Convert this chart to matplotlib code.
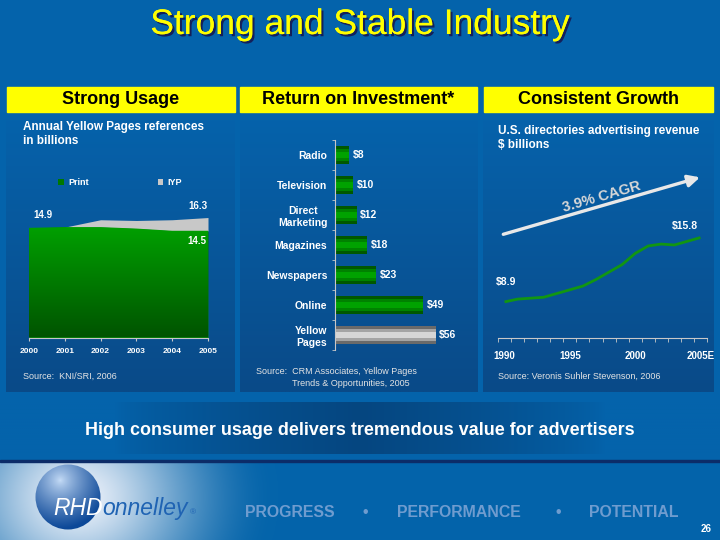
import numpy as np
import matplotlib
matplotlib.use('Agg')
import matplotlib.pyplot as plt
from matplotlib import patheffects
from matplotlib.patches import Circle, Rectangle

plt.rcParams['font.family'] = ['Liberation Sans', 'DejaVu Sans']

# Strong Usage - annual Yellow Pages references, billions
usage_years = [2000, 2001, 2002, 2003, 2004, 2005]
usage_print = [14.9, 15.0, 15.0, 14.8, 14.5, 14.5]
usage_iyp = [0.0, 0.0, 1.0, 1.1, 1.5, 1.8]

# Return on Investment
roi_media = ['Radio', 'Television', 'Direct\nMarketing', 'Magazines',
             'Newspapers', 'Online', 'Yellow\nPages']
roi_values = [8, 10, 12, 18, 23, 49, 56]

# Consistent Growth - U.S. directories advertising revenue, $ billions
rev_years = list(range(1990, 2006))
rev_values = [8.9, 9.2, 9.3, 9.4, 9.8, 10.2, 10.6, 11.3, 12.1, 12.9,
              14.1, 14.9, 15.1, 15.0, 15.4, 15.8]
rev_ticks = [1990, 1995, 2000, 2005]
rev_tick_labels = ['1990', '1995', '2000', '2005E']

W, H = 720, 540
BG = '#0463ab'
AXIS = '#c8c8c8'


def box(x0, y0, x1, y1):
    # pixel box (origin top left) -> figure fraction rect
    return [x0 / W, 1 - y1 / H, (x1 - x0) / W, (y1 - y0) / H]


def mix(c0, c1, t):
    c0 = np.array(c0) / 255.0
    c1 = np.array(c1) / 255.0
    t = np.asarray(t)[..., None]
    return c0 + (c1 - c0) * t


fig = plt.figure(figsize=(7.2, 5.4), dpi=100)
fig.patch.set_facecolor(BG)

# background layer in pixel coordinates
bg = fig.add_axes([0, 0, 1, 1])
bg.axis('off')

for x0, x1 in [(6, 234.5), (239.5, 477), (483, 714)]:
    bg.imshow(mix((5, 101, 175), (10, 74, 136), np.linspace(0, 1, 200)[:, None]),
              extent=(x0, x1, 392, 87), aspect='auto', interpolation='bilinear')

# darker band behind the message
xs = np.linspace(0, W, 360)
prof = np.clip(1 - np.abs(xs - 360) / 245, 0, 1) ** 0.7
bg.imshow(mix((4, 99, 171), (6, 70, 128), prof[None, :]),
          extent=(0, W, 454, 402), aspect='auto', interpolation='bilinear')

# footer
yy, xx = np.mgrid[462:540:1.0, 0:720:1.0]
r = np.hypot(xx - 78, (yy - 497) * 1.2)
t = np.clip(r / 200, 0, 1)
t = t * t * (3 - 2 * t)
foot = mix((236, 241, 250), (4, 100, 170), t ** 0.8)
bg.imshow(foot, extent=(0, W, 540, 462), aspect='auto')
bg.add_patch(Rectangle((0, 459.5), W, 2.5, color='#0c2c68'))

# logo sphere
yy, xx = np.mgrid[464:530:0.5, 35:101:0.5]
d = np.hypot(xx - 60, yy - 480)
sph = bg.imshow(mix((200, 222, 248), (12, 72, 152), np.clip(d / 48, 0, 1) ** 0.8),
                extent=(35, 101, 530, 464), aspect='auto')
circ = Circle((68, 497), 32.5, transform=bg.transData, facecolor='none', edgecolor='none')
bg.add_patch(circ)
sph.set_clip_path(circ)

# title
bg.text(360, 34, 'Strong and Stable Industry', ha='center', va='baseline',
        fontsize=25.5, color='#ffff00',
        path_effects=[patheffects.withSimplePatchShadow(offset=(1.6, -1.6),
                                                        shadow_rgbFace='#14205a', alpha=1),
                      patheffects.Normal()])

# yellow header boxes
for (x0, x1), txt in zip([(6.5, 235), (240, 477), (484, 712.5)],
                         ['Strong Usage', 'Return on Investment*', 'Consistent Growth']):
    bg.add_patch(Rectangle((x0, 87), x1 - x0, 24.5, color='#ffff00'))
    bg.text((x0 + x1) / 2, 104.5, txt, ha='center', va='baseline',
            fontsize=13, fontweight='bold', color='black')

white_bold = dict(color='white', fontweight='bold')
bg.text(22.7, 130, 'Annual Yellow Pages references', fontsize=8.5, va='baseline', **white_bold)
bg.text(22.7, 143.5, 'in billions', fontsize=8.5, va='baseline', **white_bold)
bg.text(498.3, 134, 'U.S. directories advertising revenue', fontsize=8.5, va='baseline', **white_bold)
bg.text(498.3, 147.5, '$ billions', fontsize=8.5, va='baseline', **white_bold)

src = dict(fontsize=6.5, color='#e4e4e4', va='baseline')
bg.text(22.7, 378.5, 'Source:  KNI/SRI, 2006', **src)
bg.text(255.7, 374, 'Source:  CRM Associates, Yellow Pages', **src)
bg.text(291.7, 385.5, 'Trends & Opportunities, 2005', **src)
bg.text(498.3, 378.5, 'Source: Veronis Suhler Stevenson, 2006', **src)

bg.text(360, 435, 'High consumer usage delivers tremendous value for advertisers',
        ha='center', va='baseline', fontsize=12.9, **white_bold)

# footer texts
t1 = bg.text(53, 515, 'RHD', fontsize=16.5, style='italic', color='white', va='baseline')
t2 = bg.annotate('onnelley', xy=(1, 0), xycoords=t1, va='bottom', ha='left',
                 fontsize=16.5, style='italic', color='#1f63b3')
bg.annotate('®', xy=(1, 0), xycoords=t2, xytext=(1, 3), textcoords='offset points',
            va='bottom', ha='left', fontsize=6, color='#1f63b3')
tag = dict(fontsize=11.4, fontweight='bold', color='#6f9ccf', va='baseline')
bg.text(245, 517.3, 'PROGRESS', **tag)
bg.text(365, 517.3, '•', ha='center', **tag)
bg.text(397, 517.3, 'PERFORMANCE', **tag)
bg.text(558, 517.3, '•', ha='center', **tag)
bg.text(589, 517.3, 'POTENTIAL', **tag)
bg.text(712, 531.7, '26', ha='right', va='baseline', fontsize=7, **white_bold)

# CAGR arrow
bg.annotate('', xy=(700, 177.3), xytext=(503.3, 234.3),
            arrowprops=dict(arrowstyle='-|>,head_length=0.7,head_width=0.35',
                            lw=2.4, color='#e8e8e8', shrinkA=0, shrinkB=0))
bg.text(601.5, 196.5, '3.9% CAGR', rotation=16.2, rotation_mode='anchor',
        ha='center', va='center', fontsize=10.5, fontweight='bold', color='#d8d8d8')

bg.set_xlim(0, W)
bg.set_ylim(H, 0)

# ---- chart 1: stacked area
PX1 = 7.36
ax1 = fig.add_axes(box(29, 337.5 - 20 * PX1, 208, 337.5))
ax1.set_facecolor('none')
total = np.add(usage_print, usage_iyp)
p_print = ax1.fill_between(usage_years, 0, usage_print, color='#007800', lw=0, label='Print')
grad = ax1.imshow(mix((0, 160, 0), (0, 84, 0), np.linspace(0, 1, 100)[:, None]),
                  extent=(2000, 2005, 0, max(usage_print)), aspect='auto', zorder=2)
grad.set_clip_path(p_print.get_paths()[0], transform=ax1.transData)
ax1.fill_between(usage_years, usage_print, total, color='#c8c8c8', lw=0, label='IYP')
ax1.set_xlim(2000, 2005)
ax1.set_ylim(0, 20)
for s in ['left', 'top', 'right']:
    ax1.spines[s].set_visible(False)
ax1.spines['bottom'].set_color(AXIS)
ax1.set_yticks([])
ax1.set_xticks(usage_years)
ax1.tick_params(axis='x', direction='out', length=2.5, color=AXIS, pad=5,
                labelsize=6, labelcolor='white')
for lab in ax1.get_xticklabels():
    lab.set_fontweight('bold')
ax1.legend(loc='center', bbox_to_anchor=(0.51, 1.052), ncol=2, frameon=False,
           prop={'weight': 'bold', 'size': 6.5}, labelcolor='white',
           handlelength=0.6, handleheight=0.6, handletextpad=0.5, columnspacing=7.6)
lbl = dict(textcoords='offset points', ha='center', va='center', fontsize=7, **white_bold)
ax1.annotate(f'{usage_print[0]:.1f}', xy=(usage_years[0], usage_print[0]), xytext=(10, 9), **lbl)
ax1.annotate(f'{total[-1]:.1f}', xy=(usage_years[-1], total[-1]), xytext=(-7, 8), **lbl)
ax1.annotate(f'{usage_print[-1]:.1f}', xy=(usage_years[-1], usage_print[-1]), xytext=(-8, -7), **lbl)

# ---- chart 2: horizontal bars
PX2 = 1.8
ax2 = fig.add_axes(box(335, 140, 335 + 62 * PX2, 350))
ax2.set_facecolor('none')
idx = np.arange(len(roi_media))
greens = ['#005800', '#008200', '#00a200']
greys = ['#6a6a6a', '#a4a4a4', '#d6d6d6']
for layer, h in enumerate([0.6, 0.42, 0.22]):
    cols = [greens[layer]] * (len(roi_media) - 1) + [greys[layer]]
    ax2.barh(idx, roi_values, height=h, color=cols, lw=0)
for i, v in zip(idx, roi_values):
    ax2.annotate(f'${v}', xy=(v, i), xytext=(2.5, 0), textcoords='offset points',
                 ha='left', va='center', fontsize=7.5, **white_bold)
ax2.set_xlim(0, 62)
ax2.set_ylim(len(roi_media) - 0.5, -0.5)
for s in ['bottom', 'top', 'right']:
    ax2.spines[s].set_visible(False)
ax2.spines['left'].set_color(AXIS)
ax2.set_xticks([])
ax2.set_yticks(idx, roi_media)
ax2.set_yticks(np.arange(-0.5, len(roi_media)), minor=True)
ax2.tick_params(axis='y', which='major', length=0, pad=5.5, labelsize=7.5, labelcolor='white')
ax2.tick_params(axis='y', which='minor', length=2.5, color=AXIS, direction='out')
for lab in ax2.get_yticklabels():
    lab.set_fontweight('bold')
    lab.set_multialignment('center')

# ---- chart 3: line
PX3 = 9.33
ax3 = fig.add_axes(box(498, 338.3 - 18 * PX3, 707, 338.3))
ax3.set_facecolor('none')
ax3.plot(rev_years, rev_values, color='#129612', lw=2.0, solid_capstyle='butt')
ax3.set_xlim(1989.5, 2005.5)
ax3.set_ylim(5, 23)
for s in ['left', 'top', 'right']:
    ax3.spines[s].set_visible(False)
ax3.spines['bottom'].set_color(AXIS)
ax3.set_yticks([])
ax3.set_xticks(rev_ticks, rev_tick_labels)
ax3.set_xticks(np.arange(1989.5, 2006), minor=True)
ax3.tick_params(axis='x', which='major', length=0, pad=9, labelsize=7, labelcolor='white')
ax3.tick_params(axis='x', which='minor', length=3, color=AXIS, direction='out')
for lab in ax3.get_xticklabels():
    lab.set_fontweight('bold')
ax3.annotate(f'${rev_values[0]}', xy=(rev_years[0], rev_values[0]), xytext=(-6.3, 14.2),
             textcoords='offset points', ha='left', va='center', fontsize=7.5, **white_bold)
ax3.annotate(f'${rev_values[-1]}', xy=(rev_years[-1], rev_values[-1]), xytext=(-20.9, 8.1),
             textcoords='offset points', ha='left', va='center', fontsize=7.5, **white_bold)

fig.savefig('out.png', dpi=100, facecolor=fig.get_facecolor())
